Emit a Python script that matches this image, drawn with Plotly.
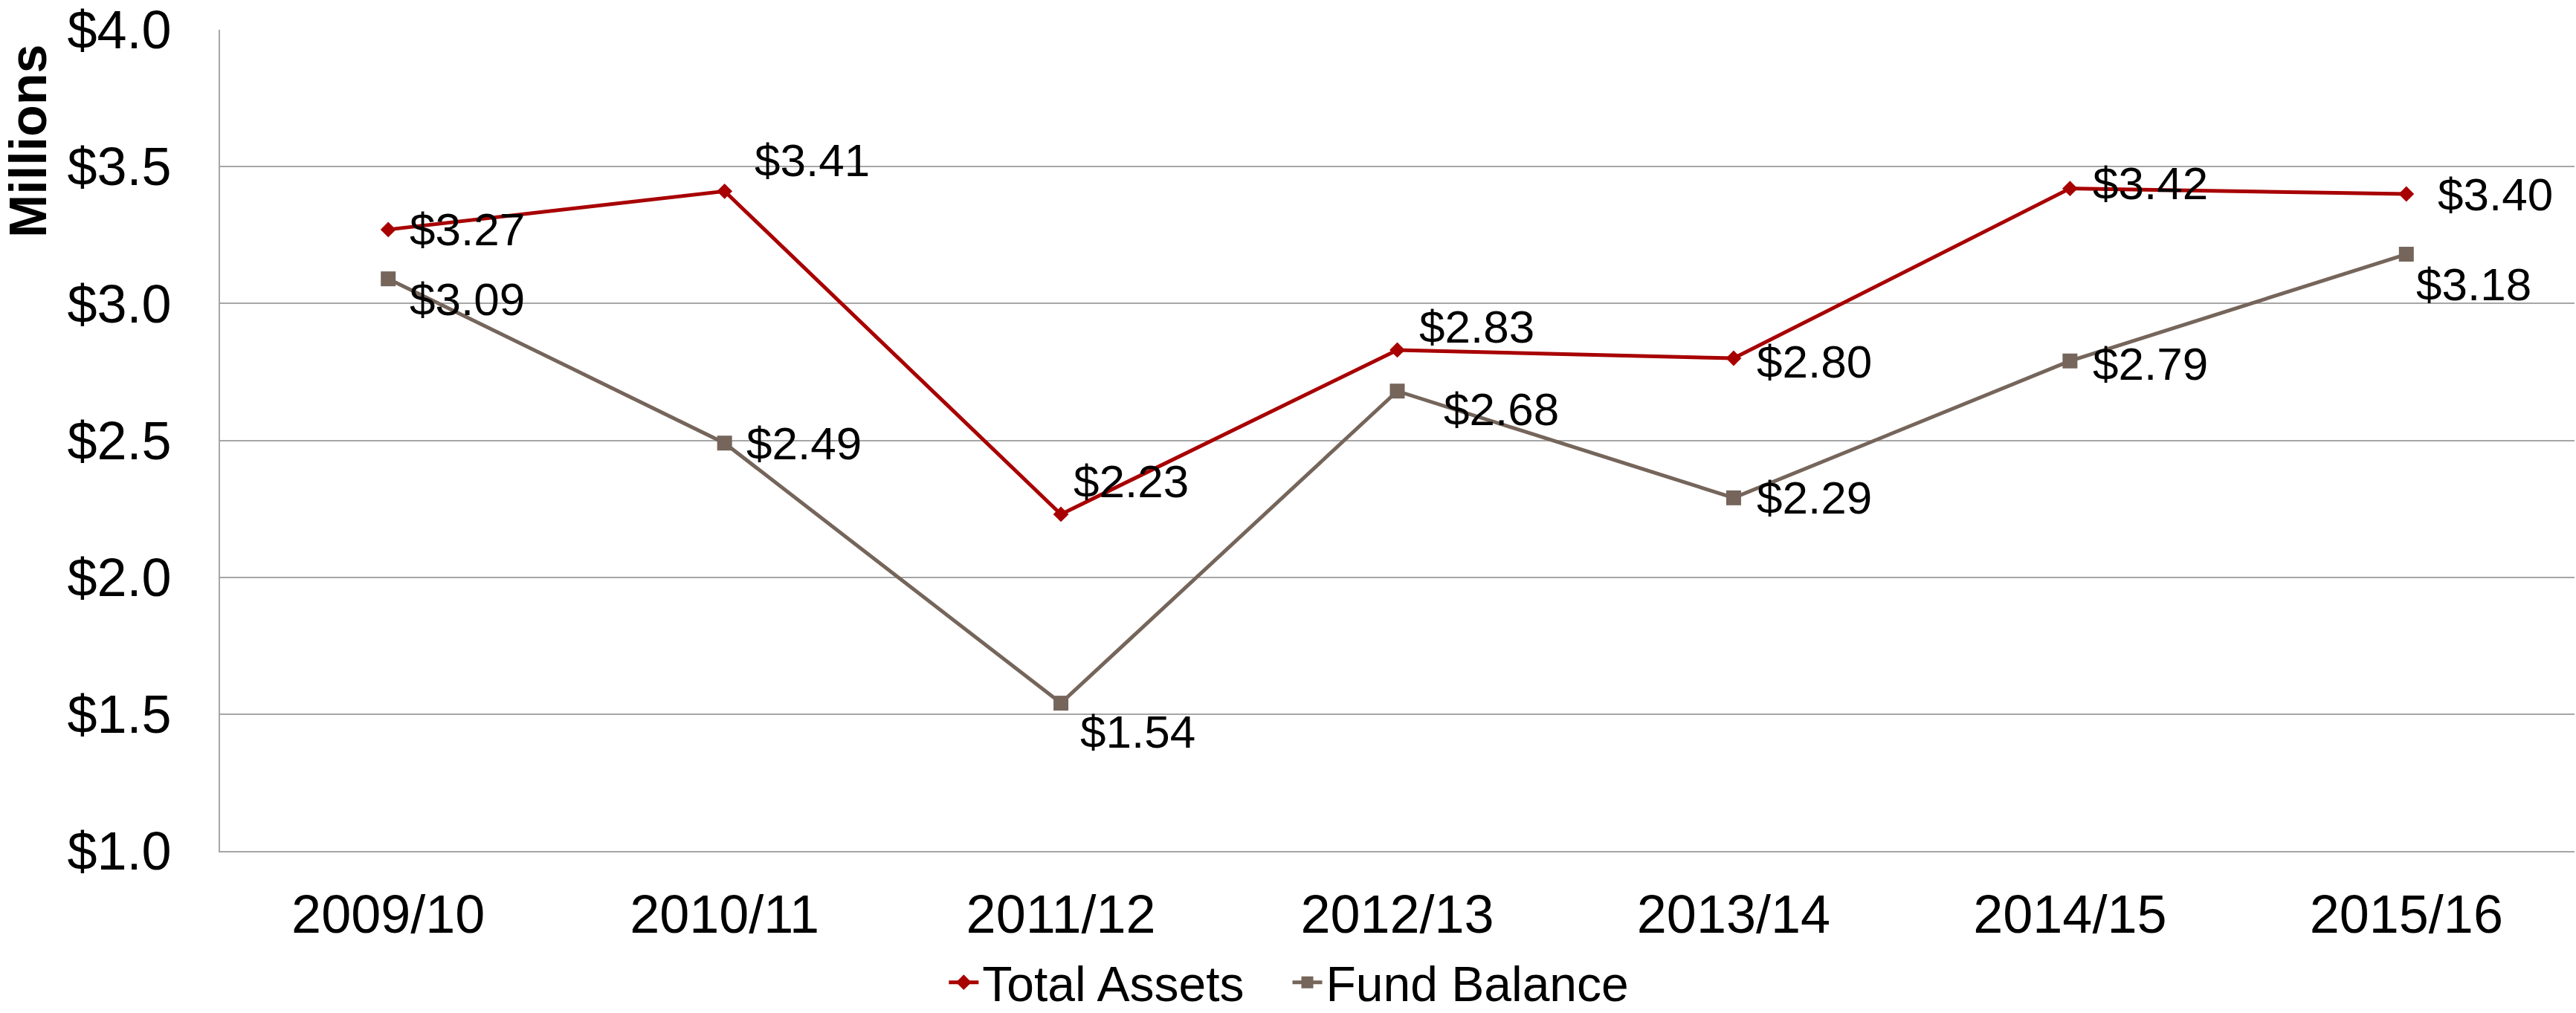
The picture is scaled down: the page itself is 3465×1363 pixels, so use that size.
import plotly.graph_objects as go

# Fiscal years and balances (millions of dollars)
years = ["2009/10", "2010/11", "2011/12", "2012/13", "2013/14", "2014/15", "2015/16"]
total_assets = [3.27, 3.41, 2.23, 2.83, 2.80, 3.42, 3.40]
fund_balance = [3.09, 2.49, 1.54, 2.68, 2.29, 2.79, 3.18]
y_ticks = [1.0, 1.5, 2.0, 2.5, 3.0, 3.5, 4.0]
y_tick_text = [f"${v:.1f}" for v in y_ticks]

RED = "#A80000"
BROWN = "#75655A"
FONT = "Liberation Sans, Arial, sans-serif"
NBSP = "\u00a0"

# Pixel nudges for each value label (left edge offset, vertical offset)
ta_dx = [27, 38, 15, 27, 29, 29, 40]
ta_dy = [0, 42, 44, 31, -4, 7, 0]
fb_dx = [27, 27, 24, 60, 29, 29, 11]
fb_dy = [-27, 0, -38, -24, 0, -4, -40]

fig = go.Figure()
fig.add_trace(go.Scatter(
    x=years, y=total_assets, name="Total Assets" + NBSP * 3, mode="lines+markers",
    line=dict(color=RED, width=5),
    marker=dict(symbol="diamond", size=16, color=RED),
))
fig.add_trace(go.Scatter(
    x=years, y=fund_balance, name="Fund Balance", mode="lines+markers",
    line=dict(color=BROWN, width=5),
    marker=dict(symbol="square", size=20, color=BROWN),
))

annotations = []
for vals, dxs, dys in ((total_assets, ta_dx, ta_dy), (fund_balance, fb_dx, fb_dy)):
    for yr, v, dx, dy in zip(years, vals, dxs, dys):
        annotations.append(dict(
            x=yr, y=v, xref="x", yref="y", text=f"${v:.2f}", showarrow=False,
            xanchor="left", yanchor="middle", xshift=dx, yshift=dy,
            font=dict(family=FONT, size=62, color="black"),
        ))

annotations.append(dict(
    text="<b>Millions</b>", textangle=-90, showarrow=False,
    xref="paper", yref="paper", x=-0.0815, y=0.865, xanchor="center", yanchor="middle",
    font=dict(family=FONT, size=70, color="black"),
))

fig.update_layout(
    width=3465, height=1363,
    margin=dict(l=296, r=2, t=40, b=218, autoexpand=False),
    paper_bgcolor="white", plot_bgcolor="white",
    font=dict(family=FONT, color="black"),
    showlegend=True,
    legend=dict(
        orientation="h", x=0.454, y=-0.16, xanchor="center", yanchor="middle",
        font=dict(family=FONT, size=66, color="black"),
        itemwidth=40, tracegroupgap=0,
    ),
    annotations=annotations,
)
fig.update_xaxes(
    type="category", showgrid=False, showline=True, linecolor="#A6A6A6", linewidth=2,
    ticks="", tickfont=dict(family=FONT, size=72, color="black"),
    ticklabelstandoff=22, range=[-0.5, 6.5], automargin=False,
)
fig.update_yaxes(
    range=[1.0, 4.0], tickvals=y_ticks, ticktext=y_tick_text,
    showgrid=True, gridcolor="#A6A6A6", gridwidth=2,
    showline=True, linecolor="#A6A6A6", linewidth=2, zeroline=False,
    ticks="", tickfont=dict(family=FONT, size=72, color="black"),
    ticklabelstandoff=49, automargin=False,
)

fig.write_html("out.html")
